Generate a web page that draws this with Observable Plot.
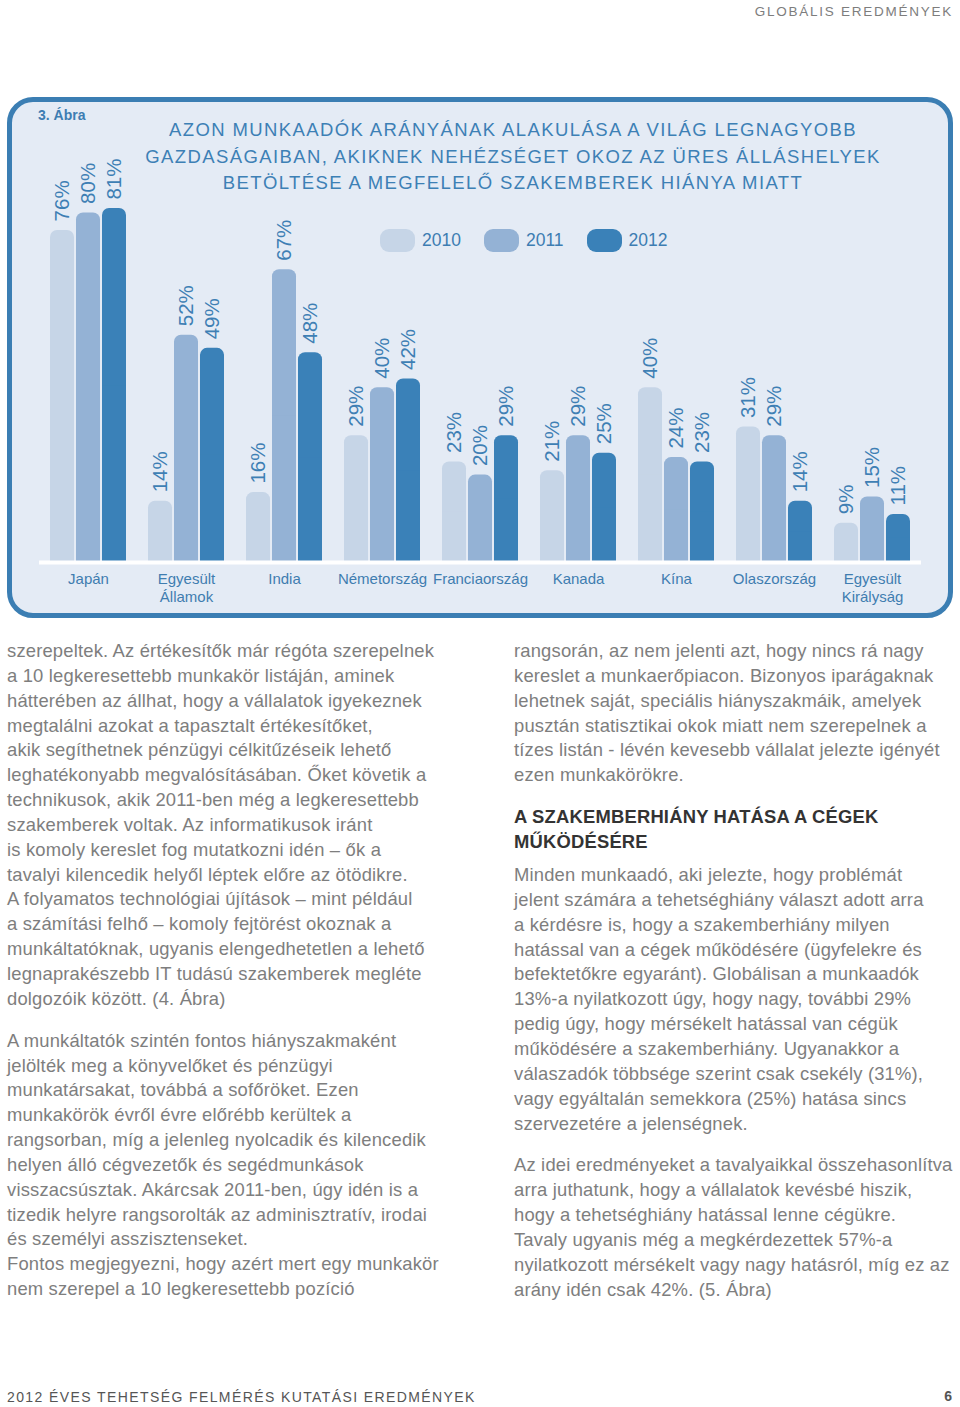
<!DOCTYPE html>
<html>
<head>
<meta charset="utf-8">
<script src="https://cdn.jsdelivr.net/npm/d3@7"></script>
<script src="https://cdn.jsdelivr.net/npm/@observablehq/plot@0.6"></script>
<style>
  html, body { margin: 0; padding: 0; background: #ffffff; }
  body { width: 960px; height: 1407px; position: relative; overflow: hidden; font-family: "Liberation Sans", Arial, sans-serif; }
  .abs { position: absolute; }
  #header { right: 7px; top: 4px; font-size: 13.5px; letter-spacing: 1.75px; color: #7d7d7d; }
  #box { left: 7px; top: 97px; width: 946px; height: 521px; box-sizing: border-box; border: 5px solid #3b7eb3; border-radius: 26px; background: #e4ebf5; }
  #chart { left: 0; top: 97px; }
  #abra { left: 38px; top: 107px; font-size: 14px; font-weight: bold; color: #3d7db2; }
  #title { left: 100px; width: 826px; top: 117px; text-align: center; font-size: 18.5px; line-height: 26.5px; letter-spacing: 1.4px; color: #3d80b5; white-space: pre; }
  #legend { left: 380px; top: 229px; display: flex; align-items: center; font-size: 17.5px; color: #3d7db2; }
  .sw { width: 35px; height: 23px; border-radius: 9px; margin-right: 7px; }
  .lg { margin-right: 23px; }
  .col { font-size: 18.4px; line-height: 24.85px; letter-spacing: 0.18px; color: #7e7e7e; white-space: pre; }
  .col p { margin: 0; }
  #left { left: 7px; top: 639px; }
  #right { left: 514px; top: 639px; }
  h3 { margin: 16px 0 9px 0; font-size: 18.4px; line-height: 25px; font-weight: bold; letter-spacing: 0.2px; color: #333; }
  .gap { margin-top: 17px !important; }
  #footer { left: 7px; top: 1389px; font-size: 14px; letter-spacing: 1.4px; color: #555; }
  #page { right: 8px; top: 1388px; font-size: 14px; font-weight: bold; color: #555; }
</style>
</head>
<body>
<div id="header" class="abs">GLOBÁLIS EREDMÉNYEK</div>
<div id="box" class="abs"></div>
<div id="chart" class="abs"></div>
<div id="abra" class="abs">3. Ábra</div>
<div id="title" class="abs"></div>
<div id="legend" class="abs"></div>
<div id="left" class="abs col"></div>
<div id="right" class="abs col"></div>
<div id="footer" class="abs">2012 ÉVES TEHETSÉG FELMÉRÉS KUTATÁSI EREDMÉNYEK</div>
<div id="page" class="abs">6</div>
<script>
// ---- Data ----
const countries = ["Japán", "Egyesült\nÁllamok", "India", "Németország", "Franciaország", "Kanada", "Kína", "Olaszország", "Egyesült\nKirályság"];
const years = ["2010", "2011", "2012"];
const values2010 = [76, 14, 16, 29, 23, 21, 40, 31, 9];
const values2011 = [80, 52, 67, 40, 20, 29, 24, 29, 15];
const values2012 = [81, 49, 48, 42, 29, 25, 23, 14, 11];
const yearColors = ["#c6d5e7", "#94b2d5", "#3a81b8"];
const titleLines = [
  "AZON MUNKAADÓK ARÁNYÁNAK ALAKULÁSA A VILÁG LEGNAGYOBB",
  "GAZDASÁGAIBAN, AKIKNEK NEHÉZSÉGET OKOZ AZ ÜRES ÁLLÁSHELYEK",
  "BETÖLTÉSE A MEGFELELŐ SZAKEMBEREK HIÁNYA MIATT"
];
const leftParas = [
  ["szerepeltek. Az értékesítők már régóta szerepelnek",
   "a 10 legkeresettebb munkakör listáján, aminek",
   "hátterében az állhat, hogy a vállalatok igyekeznek",
   "megtalálni azokat a tapasztalt értékesítőket,",
   "akik segíthetnek pénzügyi célkitűzéseik lehető",
   "leghatékonyabb megvalósításában. Őket követik a",
   "technikusok, akik 2011-ben még a legkeresettebb",
   "szakemberek voltak. Az informatikusok iránt",
   "is komoly kereslet fog mutatkozni idén – ők a",
   "tavalyi kilencedik helyől léptek előre az ötödikre.",
   "A folyamatos technológiai újítások – mint például",
   "a számítási felhő – komoly fejtörést okoznak a",
   "munkáltatóknak, ugyanis elengedhetetlen a lehető",
   "legnaprakészebb IT tudású szakemberek megléte",
   "dolgozóik között. (4. Ábra)"],
  ["A munkáltatók szintén fontos hiányszakmaként",
   "jelölték meg a könyvelőket és pénzügyi",
   "munkatársakat, továbbá a sofőröket. Ezen",
   "munkakörök évről évre előrébb kerültek a",
   "rangsorban, míg a jelenleg nyolcadik és kilencedik",
   "helyen álló cégvezetők és segédmunkások",
   "visszacsúsztak. Akárcsak 2011-ben, úgy idén is a",
   "tizedik helyre rangsorolták az adminisztratív, irodai",
   "és személyi asszisztenseket.",
   "Fontos megjegyezni, hogy azért mert egy munkakör",
   "nem szerepel a 10 legkeresettebb pozíció"]
];
const rightPara1 = [
  "rangsorán, az nem jelenti azt, hogy nincs rá nagy",
  "kereslet a munkaerőpiacon. Bizonyos iparágaknak",
  "lehetnek saját, speciális hiányszakmáik, amelyek",
  "pusztán statisztikai okok miatt nem szerepelnek a",
  "tízes listán - lévén kevesebb vállalat jelezte igényét",
  "ezen munkakörökre."];
const rightHeading = ["A SZAKEMBERHIÁNY HATÁSA A CÉGEK", "MŰKÖDÉSÉRE"];
const rightPara2 = [
  "Minden munkaadó, aki jelezte, hogy problémát",
  "jelent számára a tehetséghiány választ adott arra",
  "a kérdésre is, hogy a szakemberhiány milyen",
  "hatással van a cégek működésére (ügyfelekre és",
  "befektetőkre egyaránt). Globálisan a munkaadók",
  "13%-a nyilatkozott úgy, hogy nagy, további 29%",
  "pedig úgy, hogy mérsékelt hatással van cégük",
  "működésére a szakemberhiány. Ugyanakkor a",
  "válaszadók többsége szerint csak csekély (31%),",
  "vagy egyáltalán semekkora (25%) hatása sincs",
  "szervezetére a jelenségnek."];
const rightPara3 = [
  "Az idei eredményeket a tavalyaikkal összehasonlítva",
  "arra juthatunk, hogy a vállalatok kevésbé hiszik,",
  "hogy a tehetséghiány hatással lenne cégükre.",
  "Tavaly ugyanis még a megkérdezettek 57%-a",
  "nyilatkozott mérsékelt vagy nagy hatásról, míg ez az",
  "arány idén csak 42%. (5. Ábra)"];

// ---- Build table ----
const series = [values2010, values2011, values2012];
const data = [];
countries.forEach((c, i) => years.forEach((y, j) => data.push({country: c, year: y, value: series[j][i]})));

// ---- Text blocks ----
document.getElementById("title").textContent = titleLines.join("\n");
const legend = document.getElementById("legend");
years.forEach((y, j) => {
  const sw = document.createElement("div"); sw.className = "sw"; sw.style.background = yearColors[j];
  const t = document.createElement("div"); t.className = "lg"; t.textContent = y;
  legend.appendChild(sw); legend.appendChild(t);
});
const left = document.getElementById("left");
leftParas.forEach((p, i) => {
  const el = document.createElement("p"); el.textContent = p.join("\n");
  if (i > 0) el.className = "gap";
  left.appendChild(el);
});
const right = document.getElementById("right");
const rp1 = document.createElement("p"); rp1.textContent = rightPara1.join("\n"); right.appendChild(rp1);
const h = document.createElement("h3"); h.textContent = rightHeading.join("\n"); right.appendChild(h);
const rp2 = document.createElement("p"); rp2.textContent = rightPara2.join("\n"); right.appendChild(rp2);
const rp3 = document.createElement("p"); rp3.textContent = rightPara3.join("\n"); rp3.className = "gap"; right.appendChild(rp3);

// ---- Chart ----
const labelColor = "#3e7fb4";
const chart = Plot.plot({
  width: 960,
  height: 520,
  marginTop: 28,
  marginBottom: 55,
  marginLeft: 39,
  marginRight: 39,
  style: {background: "transparent", overflow: "visible", fontFamily: "Liberation Sans, Arial, sans-serif"},
  fx: {domain: countries, paddingInner: 22 / 98, paddingOuter: 11 / 98, axis: null, label: null},
  x: {domain: years, paddingInner: 2 / 26, paddingOuter: 0, axis: null},
  y: {domain: [0, 100], axis: null},
  color: {domain: years, range: yearColors},
  marks: [
    Plot.barY(data, {fx: "country", x: "year", y: "value", fill: "year", rx: 7}),
    Plot.barY(data, {fx: "country", x: "year", y: d => d.value / 2, fill: "year"}),
    Plot.ruleY([0], {stroke: "white", strokeWidth: 4, insetLeft: -11, insetRight: -11}),
    Plot.text(data, {fx: "country", x: "year", y: "value", text: d => d.value + "%", rotate: -90, textAnchor: "start", dy: -9, fill: labelColor, fontSize: 20.5}),
    Plot.text(countries, {fx: d => d, text: d => d, frameAnchor: "bottom", lineAnchor: "top", dy: 9, fontSize: 15, fill: "#3f7db0", lineHeight: 1.2})
  ]
});
document.getElementById("chart").appendChild(chart);
</script>
</body>
</html>
